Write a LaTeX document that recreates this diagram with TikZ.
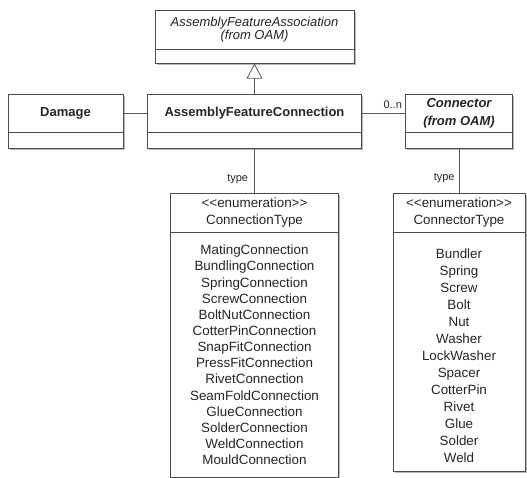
\documentclass[tikz,border=0pt]{standalone}
\usepackage{fontspec}
\setmainfont{Liberation Sans}
\usetikzlibrary{arrows.meta,shadows,positioning}

\tikzset{
  umlshadow/.style={drop shadow={shadow xshift=1.6pt,shadow yshift=-1.6pt,fill=black!55}},
  umlname/.style={draw=black!70,fill=white,align=center,inner sep=2pt,umlshadow,
    text=black!85,font=\fontsize{13}{16}\selectfont},
  umlbody/.style={draw=black!70,fill=white,anchor=north,align=center,inner sep=2pt,
    umlshadow,text=black!85},
  umlitems/.style={align=center,inner sep=0pt,text=black!85},
  umllink/.style={draw=black!65,line width=0.8pt},
  umllabel/.style={text=black!85,font=\fontsize{11}{13}\selectfont,inner sep=1pt}
}

\begin{document}
\begin{tikzpicture}[x=1pt,y=-1pt]
  \useasboundingbox (0,0) rectangle (527,478);

  % super class
  \node[umlname,minimum width=199pt,minimum height=39pt,
        font=\fontsize{13}{12.5}\selectfont\itshape] (assoc) at (254.5,29.5)
        {AssemblyFeatureAssociation\\(from OAM)};
  \node[umlbody,minimum width=199pt,minimum height=14pt] (assoc-body) at (assoc.south) {};

  % middle row
  \node[umlname,minimum width=115pt,minimum height=38pt,font=\fontsize{13}{16}\selectfont\bfseries]
        (damage) at (65.5,113) {Damage};
  \node[umlbody,minimum width=115pt,minimum height=16pt] (damage-body) at (damage.south) {};

  \node[umlname,minimum width=214pt,minimum height=38pt,font=\fontsize{13}{16}\selectfont\bfseries]
        (afc) at (254.5,113) {AssemblyFeatureConnection};
  \node[umlbody,minimum width=214pt,minimum height=16pt] (afc-body) at (afc.south) {};

  \node[umlname,minimum width=107pt,minimum height=38pt,font=\fontsize{13}{18}\selectfont\bfseries\itshape]
        (conn) at (459,113) {Connector\\(from OAM)};
  \node[umlbody,minimum width=107pt,minimum height=16pt] (conn-body) at (conn.south) {};

  % enumerations
  \node[umlname,minimum width=168pt,minimum height=39pt,font=\fontsize{13.4}{17}\selectfont]
        (ctype) at (254.5,212.5) {<{}<enumeration>{}>\\ConnectionType};
  \node[umlbody,minimum width=168pt,minimum height=245pt,font=\fontsize{13.4}{16.15}\selectfont]
        (ctype-body) at (ctype.south)
        {MatingConnection\\BundlingConnection\\SpringConnection\\ScrewConnection\\
         BoltNutConnection\\CotterPinConnection\\SnapFitConnection\\PressFitConnection\\
         RivetConnection\\SeamFoldConnection\\GlueConnection\\SolderConnection\\
         WeldConnection\\MouldConnection};

  \node[umlname,minimum width=132pt,minimum height=39pt,font=\fontsize{13.4}{17}\selectfont]
        (cotype) at (459,212.5) {<{}<enumeration>{}>\\ConnectorType};
  \node[umlbody,minimum width=132pt,minimum height=239pt] (cotype-body) at (cotype.south) {};
  \node[umlitems,font=\fontsize{13.4}{17}\selectfont] (cotype-items)
        at ([yshift=-3.5pt]cotype-body.center)
        {Bundler\\Spring\\Screw\\Bolt\\Nut\\Washer\\LockWasher\\Spacer\\
         CotterPin\\Rivet\\Glue\\Solder\\Weld};

  % links
  \draw[umllink,-{Triangle[open,length=15pt,width=16pt]}] (afc.north) -- (assoc-body.south);
  \draw[umllink] (damage.east) -- (afc.west);
  \draw[umllink] (afc.east) -- (conn.west)
        node[umllabel,pos=1,above left=3pt and 2pt] {0..n};
  \draw[umllink] (afc-body.south) -- (ctype.north)
        node[umllabel,pos=0.7,left=5pt] {type};
  \draw[umllink] (conn-body.south) -- (cotype.north)
        node[umllabel,pos=0.67,left=3pt] {type};
\end{tikzpicture}
\end{document}
